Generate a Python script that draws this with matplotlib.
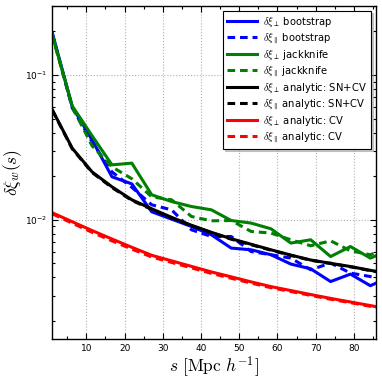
import numpy as np
import matplotlib
matplotlib.use("Agg")
import matplotlib.pyplot as plt
from matplotlib.ticker import MultipleLocator

plt.rcParams['mathtext.fontset'] = 'cm'
plt.rcParams['font.family'] = 'DejaVu Sans'

# separation bins [Mpc/h]
s = [1.1, 6.3, 11.5, 16.7, 21.9, 27.1, 32.3, 37.5, 42.7, 47.9,
     53.1, 58.3, 63.5, 68.7, 73.9, 79.1, 84.3, 89.5]

# bootstrap errors
boot_perp = [0.1949, 0.0604, 0.0356, 0.0198, 0.0177, 0.01136, 0.01011, 0.00899, 0.00788,
             0.00638, 0.00621, 0.00574, 0.00495, 0.00459, 0.00375, 0.00422, 0.00351, 0.00405]
boot_par = [0.1918, 0.0592, 0.0345, 0.0214, 0.01675, 0.01269, 0.01172, 0.00853, 0.00767,
            0.00767, 0.00604, 0.00574, 0.00544, 0.00452, 0.00503, 0.00429, 0.00406, 0.00374]

# jackknife errors
jack_perp = [0.1888, 0.0611, 0.0380, 0.02395, 0.0246, 0.01488, 0.01337, 0.01235, 0.01172,
             0.00989, 0.00949, 0.00867, 0.00691, 0.00728, 0.00558, 0.00654, 0.00544, 0.00621]
jack_par = [0.1860, 0.0602, 0.0324, 0.0232, 0.0192, 0.0144, 0.01374, 0.01054, 0.00984,
            0.00989, 0.00831, 0.00810, 0.00728, 0.00662, 0.00716, 0.00611, 0.00574, 0.00641]

# analytic, shot noise + cosmic variance
sncv_perp = [0.0574, 0.0312, 0.0214, 0.01689, 0.01374, 0.01191, 0.01040, 0.00917, 0.00820,
             0.00740, 0.00678, 0.00621, 0.00571, 0.00528, 0.00501, 0.00476, 0.00448, 0.00424]
sncv_par = [0.0570, 0.0309, 0.0212, 0.0167, 0.01360, 0.01180, 0.01030, 0.00910, 0.00814,
            0.00735, 0.00673, 0.00617, 0.00568, 0.00526, 0.00499, 0.00474, 0.00446, 0.00422]

# analytic, cosmic variance only
cv_perp = [0.01118, 0.00970, 0.00843, 0.00737, 0.00646, 0.00569, 0.00521, 0.00477, 0.00437,
           0.00404, 0.00373, 0.00346, 0.00325, 0.00305, 0.00287, 0.00271, 0.00256, 0.00241]
cv_par = [0.01100, 0.00948, 0.00820, 0.00716, 0.00628, 0.00554, 0.00508, 0.00466, 0.00427,
          0.00395, 0.00366, 0.00340, 0.00320, 0.00301, 0.00283, 0.00268, 0.00253, 0.00239]

series = [
    (boot_perp, 'b', '-', r'$\delta\xi_\perp$ bootstrap'),
    (boot_par, 'b', '--', r'$\delta\xi_\parallel$ bootstrap'),
    (jack_perp, 'g', '-', r'$\delta\xi_\perp$ jackknife'),
    (jack_par, 'g', '--', r'$\delta\xi_\parallel$ jackknife'),
    (sncv_perp, 'k', '-', r'$\delta\xi_\perp$ analytic: SN+CV'),
    (sncv_par, 'k', '--', r'$\delta\xi_\parallel$ analytic: SN+CV'),
    (cv_perp, 'r', '-', r'$\delta\xi_\perp$ analytic: CV'),
    (cv_par, 'r', '--', r'$\delta\xi_\parallel$ analytic: CV'),
]

fig = plt.figure(figsize=(3.82, 3.82), dpi=100)
ax = fig.add_axes([0.137, 0.112, 0.8465, 0.873])

for vals, c, ls, lab in series:
    ax.plot(s, vals, color=c, ls=ls, lw=2.2, dashes=(2.5, 1.6) if ls == '--' else (None, None),
            label=lab)

ax.set_yscale('log')
ax.set_xlim(1.1, 85.7)
ax.set_ylim(0.0015, 0.30)
ax.xaxis.set_major_locator(MultipleLocator(10))
ax.xaxis.set_minor_locator(MultipleLocator(5))
ax.grid(True, which='major', color='#b0b0b0', ls=':', lw=0.8)
ax.tick_params(which='both', direction='in', top=True, right=True, labelsize=6.5, width=0.8)
ax.tick_params(which='major', length=4)
ax.tick_params(which='minor', length=2)
for sp in ax.spines.values():
    sp.set_linewidth(1.0)

ax.set_xlabel(r'$s\ [\mathrm{Mpc}\ h^{-1}]$', fontsize=12.5, labelpad=1)
ax.set_ylabel(r'$\delta\xi_w(s)$', fontsize=12.5, labelpad=1)

leg = ax.legend(loc='upper right', fontsize=7.2, handlelength=3, fancybox=False,
                shadow={'ox': 1.5, 'oy': -1.5, 'color': '0.6'}, framealpha=1,
                labelspacing=0.22, borderaxespad=0.5, handletextpad=0.6,
                borderpad=0.4)
leg.get_frame().set_edgecolor('k')
leg.get_frame().set_linewidth(0.8)

fig.savefig('out.png', dpi=100)
